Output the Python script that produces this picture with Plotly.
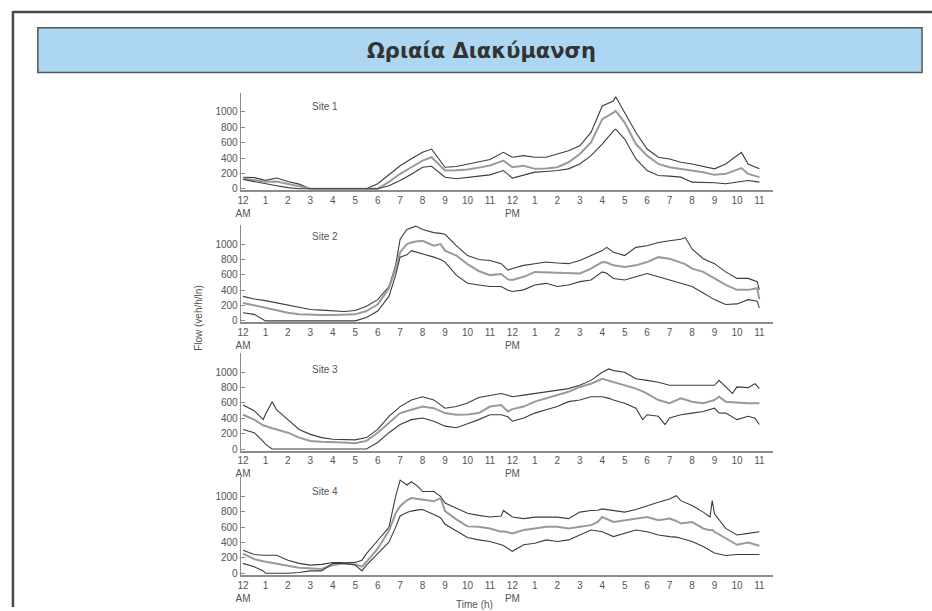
import plotly.graph_objects as go

W, H = 932, 611

# ---------------- data (veh/h/ln), hour of day 0..23 ----------------
hours_1 = [0, 0.5, 1, 1.5, 2, 2.5, 3, 3.5, 4, 4.5, 5, 5.5, 6, 6.5, 7, 7.5, 8, 8.4, 8.7, 9,
           9.5, 10, 10.5, 11, 11.6, 12, 12.5, 13, 13.5, 14, 14.5, 15, 15.5, 16, 16.5, 16.6,
           17, 17.5, 18, 18.5, 19, 19.5, 20, 20.5, 21, 21.5, 22.2, 22.5, 23]
upper_1 = [150, 145, 110, 140, 95, 60, 0, 0, 0, 0, 0, 0, 65, 180, 300, 390, 475, 517, 390, 280,
           290, 323, 350, 380, 474, 410, 431, 410, 410, 452, 495, 560, 733, 1078, 1142, 1198,
           991, 733, 517, 410, 388, 345, 323, 293, 259, 323, 474, 323, 259]
mean_1 = [135, 115, 90, 95, 60, 25, 0, 0, 0, 0, 0, 0, 0, 90, 195, 280, 366, 410, 320, 237,
          240, 250, 275, 302, 366, 280, 300, 259, 265, 280, 345, 452, 603, 905, 991, 1013,
          862, 582, 431, 323, 280, 260, 237, 216, 181, 194, 270, 194, 151]
lower_1 = [120, 90, 60, 40, 15, 0, 0, 0, 0, 0, 0, 0, 0, 40, 108, 190, 280, 293, 220, 150,
           130, 151, 165, 181, 237, 138, 172, 216, 225, 237, 259, 323, 431, 582, 754, 776,
           647, 388, 237, 172, 164, 151, 86, 86, 78, 65, 100, 108, 86]

hours_2 = [0, 0.5, 1, 1.5, 2, 2.5, 3, 3.5, 4, 4.5, 5, 5.5, 6, 6.5, 6.8, 7, 7.3, 7.5, 7.7, 8,
           8.5, 8.8, 9, 9.5, 10, 10.5, 11, 11.5, 11.8, 12, 12.5, 13, 13.5, 14, 14.5, 15, 15.5,
           16, 16.2, 16.5, 17, 17.5, 18, 18.5, 19, 19.5, 19.7, 20, 20.5, 21, 21.5, 22, 22.5,
           22.9, 23]
upper_2 = [319, 285, 264, 234, 204, 170, 149, 140, 128, 123, 136, 191, 277, 447, 723, 1064,
           1190, 1213, 1234, 1191, 1149, 1140, 1128, 979, 850, 800, 787, 745, 660, 681, 723,
           745, 766, 753, 745, 787, 851, 915, 957, 894, 851, 957, 979, 1021, 1043, 1064, 1085,
           936, 809, 745, 638, 553, 553, 511, 404]
mean_2 = [234, 200, 170, 136, 106, 85, 77, 77, 77, 78, 85, 128, 213, 426, 681, 894, 1000,
          1021, 1035, 1043, 979, 1000, 915, 851, 740, 650, 596, 610, 540, 532, 574, 638, 635,
          630, 625, 617, 681, 766, 760, 723, 702, 723, 766, 830, 809, 766, 740, 681, 638, 553,
          468, 404, 404, 426, 280]
lower_2 = [106, 85, 0, 0, 0, 0, 0, 0, 0, 0, 0, 43, 128, 319, 596, 830, 860, 915, 900, 872,
           830, 800, 766, 596, 490, 468, 447, 447, 400, 383, 404, 468, 489, 447, 468, 511, 532,
           638, 620, 553, 532, 574, 617, 574, 532, 489, 470, 447, 362, 277, 213, 221, 277, 255,
           170]

hours_3 = [0, 0.5, 0.9, 1, 1.3, 1.5, 2, 2.5, 3, 3.5, 4, 4.5, 5, 5.5, 6, 6.5, 7, 7.5, 8, 8.5,
           9, 9.5, 10, 10.5, 11, 11.5, 11.8, 12, 12.5, 13, 13.5, 14, 14.5, 15, 15.5, 16, 16.3,
           16.5, 17, 17.5, 17.8, 18, 18.5, 18.8, 19, 19.5, 20, 20.5, 21, 21.2, 21.5, 21.8, 22,
           22.5, 22.8, 23]
upper_3 = [574, 500, 383, 450, 617, 511, 383, 255, 191, 149, 128, 119, 119, 149, 255, 426,
           553, 638, 681, 640, 532, 553, 600, 672, 702, 723, 700, 681, 702, 723, 745, 766, 787,
           830, 894, 1000, 1043, 1021, 1000, 915, 905, 894, 870, 850, 830, 830, 830, 830, 830,
           894, 809, 723, 809, 800, 851, 787]
mean_3 = [447, 383, 310, 298, 270, 255, 213, 149, 106, 94, 85, 85, 77, 106, 213, 340, 468,
          511, 553, 532, 468, 447, 450, 468, 553, 574, 489, 520, 553, 617, 660, 702, 745, 809,
          851, 915, 890, 872, 830, 787, 750, 723, 638, 610, 596, 660, 617, 596, 638, 681, 617,
          610, 604, 596, 596, 596]
lower_3 = [255, 213, 100, 64, 0, 0, 0, 0, 0, 0, 0, 0, 0, 0, 85, 213, 319, 383, 404, 362, 298,
           277, 330, 383, 447, 447, 420, 362, 404, 468, 511, 553, 617, 638, 681, 681, 660, 638,
           596, 532, 383, 447, 426, 319, 404, 447, 468, 489, 532, 470, 468, 420, 383, 426, 400,
           319]

hours_4 = [0, 0.5, 0.9, 1, 1.5, 2, 2.5, 3, 3.5, 4, 4.5, 5, 5.3, 5.5, 6, 6.5, 6.8, 7, 7.3, 7.5,
           7.8, 8, 8.5, 8.8, 9, 9.5, 10, 10.5, 11, 11.5, 11.6, 12, 12.5, 13, 13.5, 14, 14.5, 15,
           15.5, 15.8, 16, 16.5, 17, 17.5, 18, 18.5, 19, 19.3, 19.5, 20, 20.5, 20.8, 20.9, 21,
           21.5, 22, 22.5, 23]
upper_4 = [298, 243, 234, 234, 234, 170, 128, 106, 115, 140, 140, 140, 170, 255, 426, 596,
           1000, 1213, 1149, 1191, 1128, 1064, 1064, 1000, 915, 851, 780, 753, 732, 745, 817,
           732, 711, 730, 730, 730, 711, 796, 817, 820, 838, 820, 796, 830, 881, 923, 966, 1009,
           945, 881, 796, 732, 945, 774, 583, 498, 519, 540]
mean_4 = [255, 183, 155, 149, 128, 98, 72, 64, 55, 106, 128, 115, 85, 149, 319, 553, 780,
          872, 950, 979, 965, 957, 936, 979, 809, 702, 610, 604, 583, 540, 545, 519, 562, 583,
          604, 604, 583, 604, 626, 668, 732, 668, 689, 711, 732, 689, 711, 680, 647, 668, 583,
          560, 565, 540, 455, 370, 400, 357]
lower_4 = [128, 85, 30, 0, 0, 0, 10, 30, 30, 128, 128, 106, 30, 106, 255, 404, 600, 745, 790,
           809, 825, 830, 766, 723, 638, 553, 465, 434, 413, 370, 360, 285, 370, 391, 434, 413,
           434, 498, 562, 550, 540, 477, 519, 562, 540, 498, 477, 470, 455, 413, 349, 300, 290,
           264, 230, 243, 243, 243]

sites = ["Site 1", "Site 2", "Site 3", "Site 4"]
site_hours = [hours_1, hours_2, hours_3, hours_4]
site_upper = [upper_1, upper_2, upper_3, upper_4]
site_mean = [mean_1, mean_2, mean_3, mean_4]
site_lower = [lower_1, lower_2, lower_3, lower_4]

y_ticks = [0, 200, 400, 600, 800, 1000]
x_ticks = list(range(24))
x_tick_text = ["12<br>AM"] + [str(h) for h in range(1, 12)] + ["12<br>PM"] + [str(h) for h in range(1, 12)]

# ---------------- layout geometry (pixels) ----------------
X_LEFT, X_RIGHT = 237, 772
X_RANGE = [-0.1, 23.6]
Y_RANGE = [-20, 1250]
PX_PER_UNIT = 0.0773
zero_px = [190, 323, 452, 577]
label_px = [107, 238, 372, 495]

def px_x(px):
    return px / W

def px_y(py):
    return 1 - py / H

FONT = "Liberation Sans Narrow, Arial Narrow, Liberation Sans, Arial"
DARK = "#3c3c3c"
MID = "#9a9a9a"
AXIS = "#8c8c8c"
TEXT = "#555555"

fig = go.Figure()
layout = {}

for i in range(4):
    n = i + 1
    xa = "x" if n == 1 else f"x{n}"
    ya = "y" if n == 1 else f"y{n}"
    bottom = zero_px[i] - Y_RANGE[0] * PX_PER_UNIT
    top = zero_px[i] - Y_RANGE[1] * PX_PER_UNIT
    for vals, color, width in ((site_upper[i], DARK, 1.1),
                               (site_mean[i], MID, 2.0),
                               (site_lower[i], DARK, 1.1)):
        fig.add_trace(go.Scatter(x=site_hours[i], y=vals, mode="lines",
                                 line=dict(color=color, width=width),
                                 xaxis=xa, yaxis=ya, showlegend=False,
                                 hoverinfo="skip"))
    layout[f"xaxis{'' if n == 1 else n}"] = dict(
        domain=[px_x(X_LEFT), px_x(X_RIGHT)], range=X_RANGE, anchor=ya,
        tickvals=x_ticks, ticktext=x_tick_text, ticks="", showgrid=False,
        zeroline=False, showline=True, linecolor=AXIS, linewidth=1.5,
        tickfont=dict(family=FONT, size=10, color=TEXT), tickangle=0)
    layout[f"yaxis{'' if n == 1 else n}"] = dict(
        domain=[px_y(bottom), px_y(top)], range=Y_RANGE, anchor=xa,
        tickvals=y_ticks, ticks="inside", ticklen=4, tickcolor=AXIS,
        showgrid=False, zeroline=False, showline=True, linecolor=AXIS,
        linewidth=1.2, tickfont=dict(family=FONT, size=10, color=TEXT))

annotations = []
for i, name in enumerate(sites):
    annotations.append(dict(x=px_x(322), y=px_y(label_px[i]), xref="paper", yref="paper",
                            text=name, showarrow=False, xanchor="center", yanchor="middle",
                            font=dict(family=FONT, size=10, color=TEXT)))
annotations.append(dict(x=px_x(195), y=px_y(320), xref="paper", yref="paper",
                        text="Flow (veh/h/ln)", textangle=-90, showarrow=False,
                        xanchor="center", yanchor="middle",
                        font=dict(family=FONT, size=10, color=TEXT)))
annotations.append(dict(x=px_x(472), y=px_y(601), xref="paper", yref="paper",
                        text="Time (h)", showarrow=False, xanchor="center", yanchor="top",
                        font=dict(family=FONT, size=10, color=TEXT)))
annotations.append(dict(x=px_x(479), y=px_y(51), xref="paper", yref="paper",
                        text="<b>Ωριαία Διακύμανση</b>", showarrow=False,
                        xanchor="center", yanchor="middle",
                        font=dict(family="DejaVu Sans, Liberation Sans, Arial", size=21,
                                  color="#333333")))

shapes = [
    # slide frame
    dict(type="line", xref="paper", yref="paper", x0=px_x(8), x1=1, y0=px_y(12), y1=px_y(12),
         line=dict(color="#4a4a4a", width=2.5)),
    dict(type="line", xref="paper", yref="paper", x0=px_x(8), x1=px_x(8), y0=px_y(11), y1=0,
         line=dict(color="#4a4a4a", width=2.5)),
    # title banner
    dict(type="rect", xref="paper", yref="paper", x0=px_x(33), x1=px_x(922),
         y0=px_y(73), y1=px_y(28), fillcolor="#acd6f1",
         line=dict(color="#555555", width=1.5), layer="below"),
]

fig.update_layout(width=W, height=H, margin=dict(l=0, r=0, t=0, b=0),
                  paper_bgcolor="white", plot_bgcolor="rgba(0,0,0,0)",
                  annotations=annotations, shapes=shapes, **layout)

fig.write_html("out.html")
